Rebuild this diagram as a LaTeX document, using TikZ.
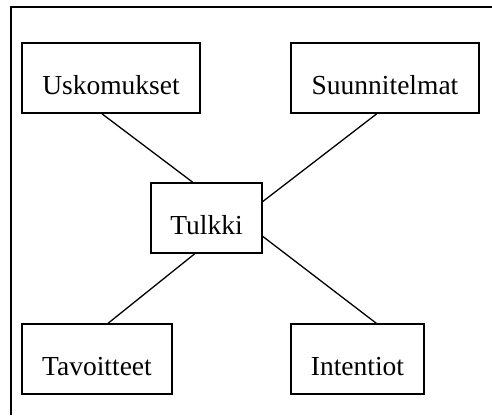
\documentclass[tikz,border=0pt]{standalone}
\usepackage{fontspec}
\setmainfont{Liberation Serif}
\usetikzlibrary{calc}

\tikzset{
  concept/.style={draw, line width=1.4pt, rectangle, minimum height=70pt,
    inner sep=0pt, text height=33pt, text depth=0pt,
    font=\fontsize{27.5}{32}\selectfont},
  link/.style={line width=1.3pt},
  frame/.style={line width=1.4pt}
}

\begin{document}
\begin{tikzpicture}[x=1pt, y=-1pt]
  \useasboundingbox (0,0) rectangle (492,415);

  % open frame: left and top edges
  \coordinate (fl) at (11,415);
  \coordinate (fc) at (11,7);
  \coordinate (fr) at (492,7);
  \draw[frame] (fl) -- (fc) -- (fr);

  % concept boxes
  \node[concept, minimum width=178pt] (usk) at (111,78)  {Uskomukset};
  \node[concept, minimum width=188pt] (suu) at (385,78)  {Suunnitelmat};
  \node[concept, minimum width=111pt] (tul) at (206.5,218) {Tulkki};
  \node[concept, minimum width=150pt] (tav) at (97,359)  {Tavoitteet};
  \node[concept, minimum width=133pt] (int) at (357.5,359) {Intentiot};

  % connectors to the interpreter
  \draw[link] ($(usk.south west)!0.449!(usk.south east)$) -- ($(tul.north west)!0.378!(tul.north east)$);
  \draw[link] ($(suu.south west)!0.457!(suu.south east)$) -- ($(tul.north east)!0.27!(tul.south east)$);
  \draw[link] ($(tav.north west)!0.573!(tav.north east)$) -- ($(tul.south west)!0.396!(tul.south east)$);
  \draw[link] ($(int.north west)!0.64!(int.north east)$) -- ($(tul.north east)!0.757!(tul.south east)$);
\end{tikzpicture}
\end{document}
